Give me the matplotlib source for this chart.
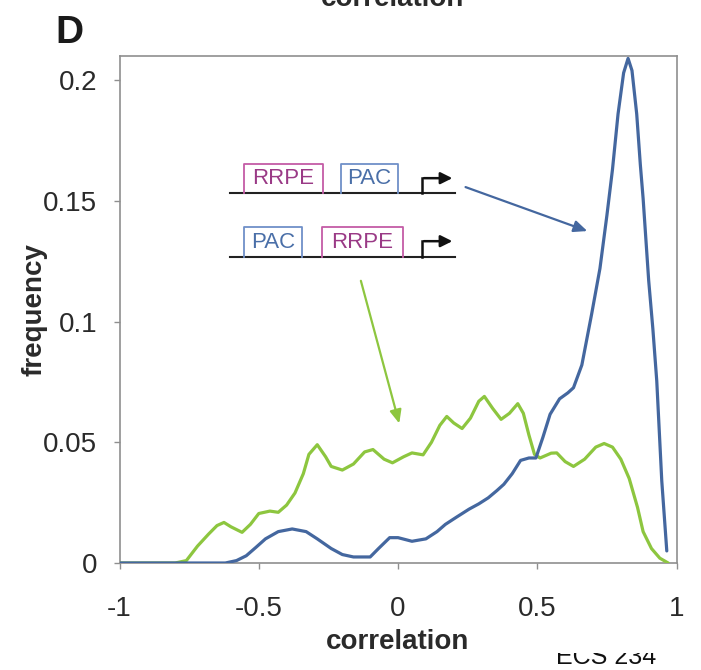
import matplotlib
matplotlib.use("Agg")
import matplotlib.pyplot as plt
from matplotlib.transforms import Bbox, TransformedBbox

plt.rcParams['font.family'] = ['Liberation Sans', 'DejaVu Sans']
plt.rcParams['axes.unicode_minus'] = False

# PAC upstream of RRPE (green) and RRPE upstream of PAC (blue)
green_x = [-1.0, -0.80, -0.76, -0.72, -0.68, -0.65, -0.625, -0.60, -0.56, -0.53, -0.50,
           -0.46, -0.43, -0.40, -0.37, -0.34, -0.32, -0.29, -0.26, -0.24, -0.20, -0.16,
           -0.12, -0.09, -0.05, -0.02, 0.02, 0.05, 0.09, 0.12, 0.15, 0.175, 0.20, 0.23,
           0.26, 0.29, 0.31, 0.34, 0.37, 0.40, 0.43, 0.45, 0.47, 0.49, 0.51, 0.55, 0.57,
           0.60, 0.63, 0.67, 0.71, 0.74, 0.77, 0.80, 0.83, 0.86, 0.88, 0.91, 0.94, 0.97]
green_y = [0, 0, 0.001, 0.007, 0.012, 0.0155, 0.0168, 0.015, 0.0127, 0.016, 0.0205,
           0.0215, 0.021, 0.024, 0.029, 0.037, 0.045, 0.049, 0.044, 0.040, 0.0385, 0.041,
           0.046, 0.047, 0.043, 0.0415, 0.044, 0.0456, 0.0448, 0.050, 0.057, 0.0607, 0.058, 0.0557,
           0.060, 0.067, 0.069, 0.064, 0.0595, 0.062, 0.066, 0.062, 0.053, 0.045, 0.0435, 0.0455, 0.0456,
           0.042, 0.040, 0.043, 0.048, 0.0495, 0.048, 0.043, 0.035, 0.023, 0.013, 0.006, 0.002, 0.0]

blue_x = [-1.0, -0.62, -0.58, -0.545, -0.51, -0.476, -0.43, -0.38, -0.33, -0.29, -0.24,
          -0.20, -0.16, -0.10, -0.07, -0.03, 0.0, 0.05, 0.10, 0.14, 0.17, 0.21, 0.255,
          0.29, 0.324, 0.355, 0.38, 0.41, 0.44, 0.47, 0.495, 0.52, 0.546, 0.58, 0.61,
          0.63, 0.66, 0.695, 0.725, 0.75, 0.77, 0.79, 0.81, 0.826, 0.84, 0.857, 0.87,
          0.88, 0.90, 0.915, 0.929, 0.947, 0.965]
blue_y = [0, 0, 0.001, 0.003, 0.0065, 0.010, 0.013, 0.0141, 0.013, 0.010, 0.006,
          0.0035, 0.0025, 0.0025, 0.006, 0.0105, 0.0105, 0.009, 0.010, 0.013, 0.016, 0.019, 0.0223,
          0.0245, 0.027, 0.030, 0.0326, 0.037, 0.0425, 0.0435, 0.0435, 0.052, 0.0616, 0.068, 0.0705,
          0.0726, 0.082, 0.103, 0.122, 0.144, 0.163, 0.186, 0.203, 0.209, 0.204, 0.186, 0.165,
          0.151, 0.117, 0.097, 0.0754, 0.034, 0.005]

xticks = [-1, -0.5, 0, 0.5, 1]
xtick_labels = ['-1', '-0.5', '0', '0.5', '1']
yticks = [0, 0.05, 0.1, 0.15, 0.2]
ytick_labels = ['0', '0.05', '0.1', '0.15', '0.2']

blue = '#44679f'
green = '#8dc63f'
magenta_edge = '#c45ca6'
magenta_text = '#9a3a86'
pac_edge = '#6f90c8'
pac_text = '#4a6fa8'
txt = '#2a2a2a'
spine = '#8f8f8f'

fig = plt.figure(figsize=(7.01, 6.70), dpi=100)
ax = fig.add_axes([0.1705, 0.1597, 0.7946, 0.7567])

ax.plot(green_x, green_y, color=green, lw=2.3, solid_capstyle='round',
        solid_joinstyle='round', zorder=3)
ax.plot(blue_x, blue_y, color=blue, lw=2.3, solid_capstyle='round',
        solid_joinstyle='round', zorder=4)

ax.set_xlim(-1, 1)
ax.set_ylim(0, 0.21)
ax.set_xticks(xticks)
ax.set_xticklabels(xtick_labels)
ax.set_yticks(yticks)
ax.set_yticklabels(ytick_labels)
ax.tick_params(direction='out', length=4, width=1, color=spine, labelsize=20,
               labelcolor=txt)
ax.tick_params(axis='x', pad=20)
ax.tick_params(axis='y', pad=12)
for s in ax.spines.values():
    s.set_color(spine)
    s.set_linewidth(1.2)

ax.set_xlabel('correlation', fontsize=20, fontweight='bold', color=txt, labelpad=5)
ax.set_ylabel('frequency', fontsize=20, fontweight='bold', color=txt, labelpad=-3)


def promoter(y0, top, boxes):
    ax.plot([-0.603, 0.205], [y0, y0], color='#222222', lw=1.5, zorder=5)
    for x0, x1, label, ec, tc in boxes:
        ax.plot([x0, x0, x1, x1], [y0, top, top, y0], color=ec, lw=1.3, zorder=6)
        ax.text((x0 + x1) / 2, (y0 + top) / 2, label, color=tc, fontsize=16,
                ha='center', va='center', zorder=6)
    tip_y = top - 0.0058
    ax.plot([0.085, 0.085], [y0, tip_y], color='#111111', lw=1.8, zorder=6)
    ax.annotate('', xy=(0.205, tip_y), xytext=(0.083, tip_y),
                arrowprops=dict(arrowstyle='-|>,head_length=0.7,head_width=0.35',
                                color='#111111', lw=1.8), zorder=6)


promoter(0.1531, 0.1652, [(-0.553, -0.269, 'RRPE', magenta_edge, magenta_text),
                          (-0.206, 0.001, 'PAC', pac_edge, pac_text)])
promoter(0.1266, 0.1391, [(-0.553, -0.346, 'PAC', pac_edge, pac_text),
                          (-0.274, 0.019, 'RRPE', magenta_edge, magenta_text)])

ax.annotate('', xy=(0.689, 0.1371), xytext=(0.233, 0.1561),
            arrowprops=dict(arrowstyle='-|>,head_length=0.8,head_width=0.35',
                            color=blue, lw=1.6))
ax.annotate('', xy=(0.007, 0.0567), xytext=(-0.136, 0.118),
            arrowprops=dict(arrowstyle='-|>,head_length=0.8,head_width=0.35',
                            color=green, lw=1.6))

fig.text(55 / 701, 1 - 43 / 670, 'D', fontsize=28, fontweight='bold', color='#1a1a1a',
         ha='left', va='baseline')
fig.text(393 / 701, 1 - 6 / 670, 'correlation', fontsize=20, fontweight='bold',
         color=txt, ha='center', va='baseline')

foot = fig.text(606 / 701, 1 - 664 / 670, 'ECS 234', fontsize=18, color='#111111',
                ha='center', va='baseline')
foot.set_clip_box(TransformedBbox(Bbox([[0, 0], [1, 17 / 670]]), fig.transFigure))
foot.set_clip_on(True)

fig.savefig('out.png', dpi=100, facecolor='white')
